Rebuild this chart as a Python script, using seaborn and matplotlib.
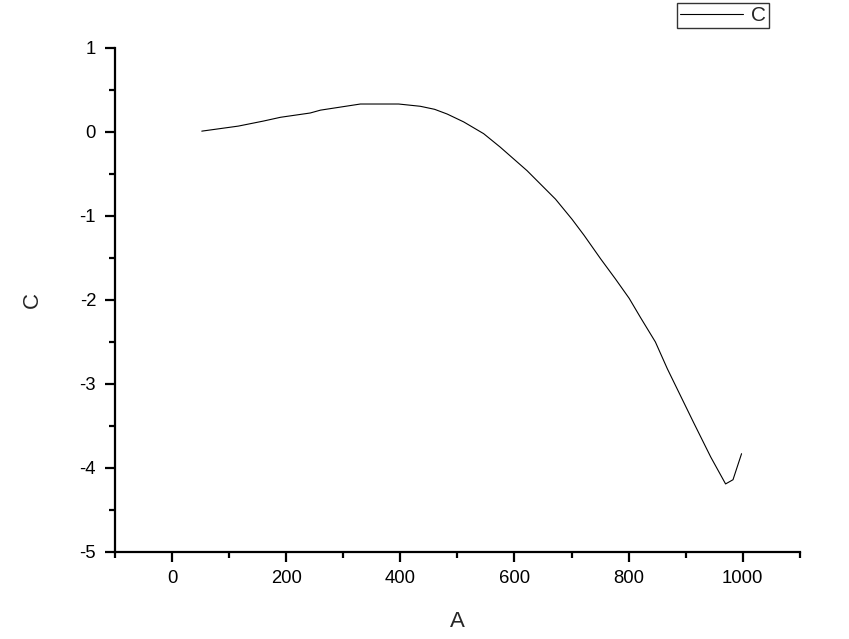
import numpy as np
import pandas as pd
import matplotlib
matplotlib.use("Agg")
import matplotlib.pyplot as plt
from matplotlib.ticker import MultipleLocator
import seaborn as sns

# values
a_vals = [52, 116, 160, 190, 242, 260, 330, 397, 435, 460, 482, 511, 546, 575, 622,
          672, 701, 722, 751, 777, 801, 821, 847, 868, 891, 914, 944, 970, 983, 998]
c_vals = [0.01, 0.07, 0.13, 0.175, 0.226, 0.26, 0.333, 0.333, 0.306, 0.27, 0.214, 0.12,
          -0.02, -0.18, -0.46, -0.80, -1.04, -1.23, -1.51, -1.75, -1.98, -2.21,
          -2.50, -2.82, -3.14, -3.46, -3.87, -4.19, -4.14, -3.83]

df = pd.DataFrame({"A": a_vals, "C": c_vals})

sns.set_style("ticks")
plt.rcParams["font.family"] = ["Liberation Sans", "DejaVu Sans"]
plt.rcParams["axes.unicode_minus"] = False

fig = plt.figure(figsize=(8.49, 6.39), dpi=100)
ax = fig.add_axes([0.1355, 0.1362, 0.8065, 0.7887])

sns.lineplot(data=df, x="A", y="C", ax=ax, color="black", linewidth=0.8,
             sort=False, label="C", estimator=None)

ax.set_xlim(-100, 1100)
ax.set_ylim(-5, 1)
ax.xaxis.set_major_locator(MultipleLocator(200))
ax.xaxis.set_minor_locator(MultipleLocator(100))
ax.yaxis.set_major_locator(MultipleLocator(1))
ax.yaxis.set_minor_locator(MultipleLocator(0.5))
ax.set_xticks([0, 200, 400, 600, 800, 1000])

sns.despine(ax=ax)
for s in ["left", "bottom"]:
    ax.spines[s].set_linewidth(1.6)
    ax.spines[s].set_color("black")

ax.tick_params(which="major", direction="out", length=7.2, width=1.6,
               labelsize=13.3, colors="black")
ax.tick_params(axis="x", which="major", pad=6)
ax.tick_params(axis="y", which="major", pad=6.5)
ax.tick_params(which="minor", direction="out", length=4.3, width=1.6, colors="black")

ax.set_xlabel("A", fontsize=16, labelpad=17)
ax.set_ylabel("C", fontsize=16, labelpad=26)

leg = ax.legend(loc="upper right", bbox_to_anchor=(769 / 849, 1 - 3 / 639),
                bbox_transform=fig.transFigure, fontsize=15, frameon=True,
                fancybox=False, handlelength=3.0, borderpad=0.15,
                handletextpad=0.4, borderaxespad=0)
leg.get_frame().set_edgecolor("black")
leg.get_frame().set_linewidth(1.0)

fig.savefig("out.png", dpi=100)
